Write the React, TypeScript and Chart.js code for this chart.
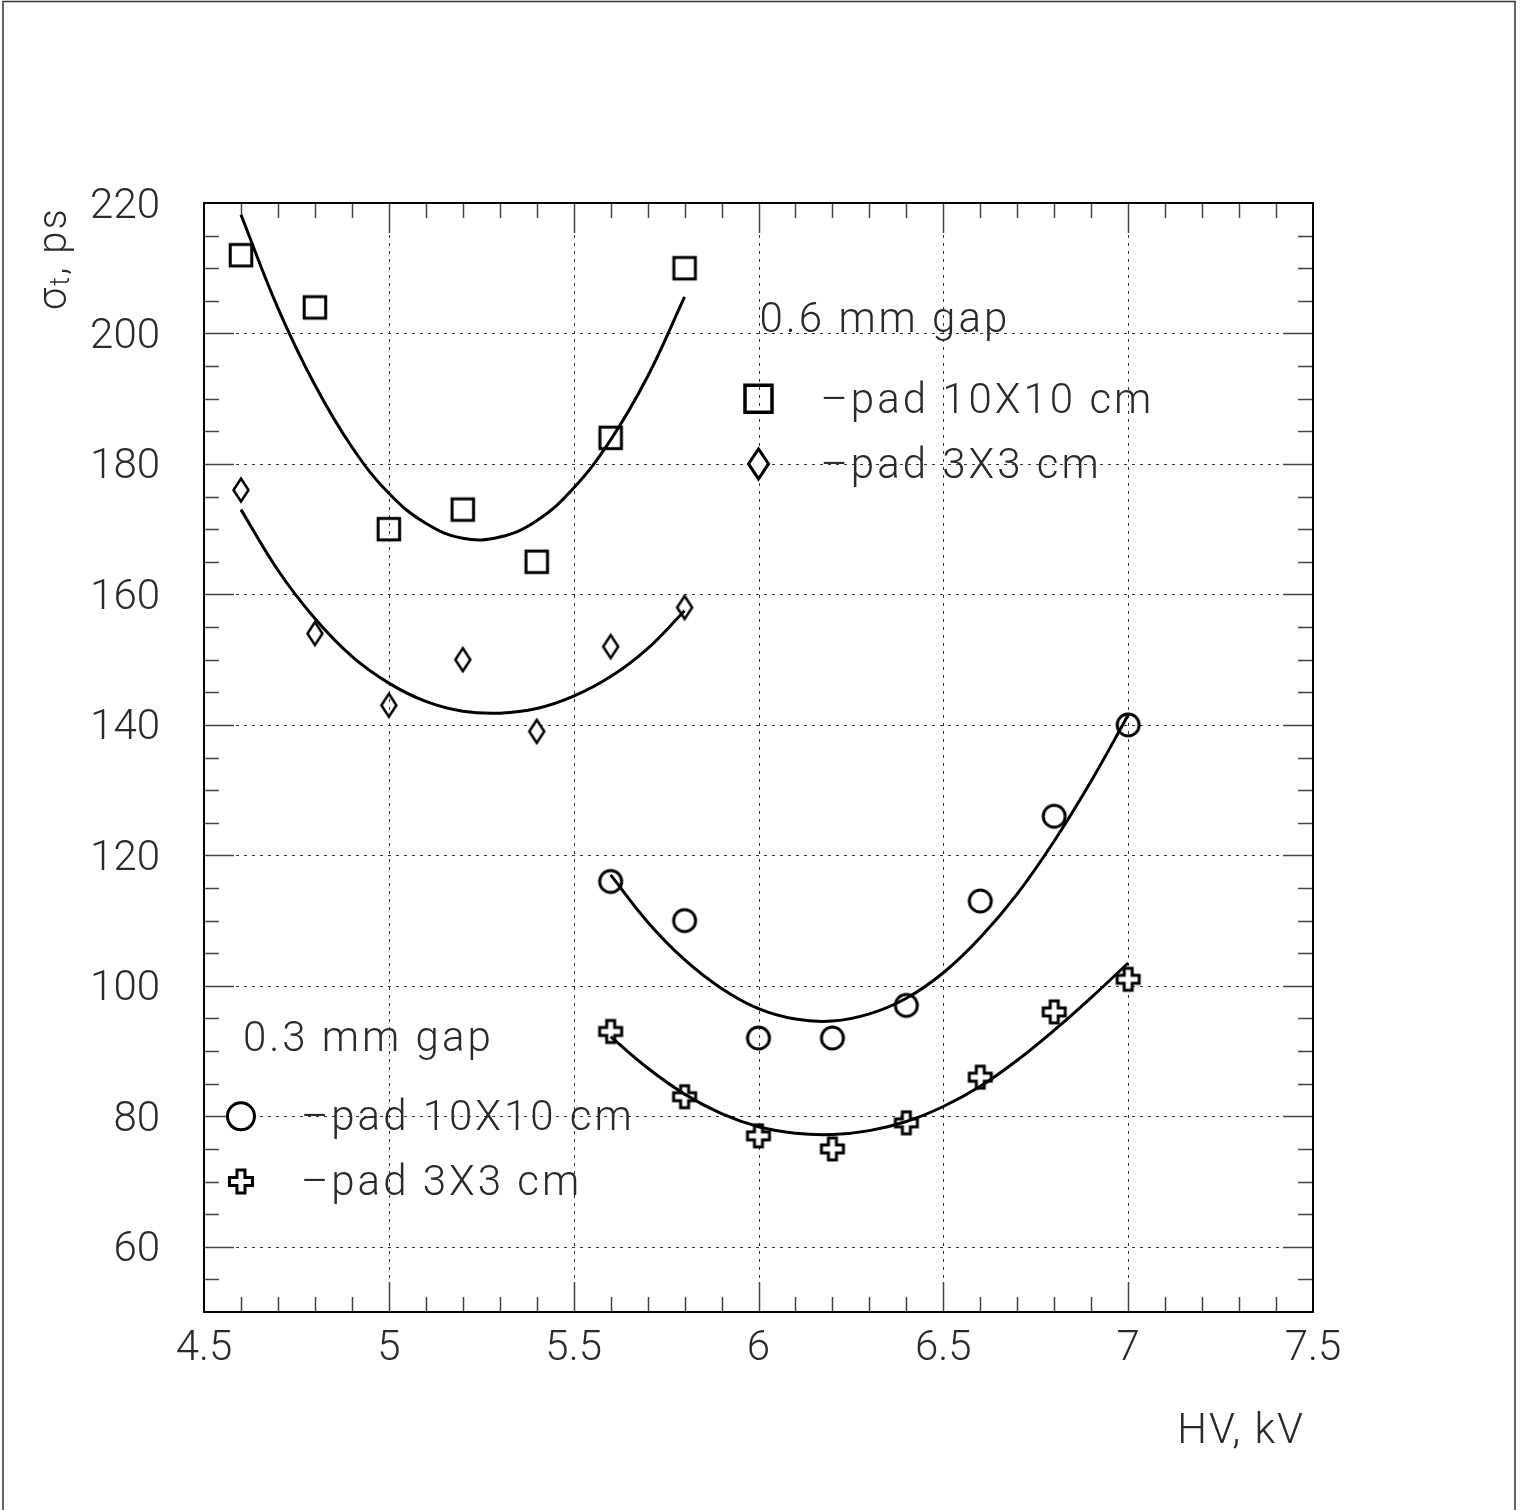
import React, { useEffect, useRef } from 'react';
import { Chart, registerables } from 'chart.js';

Chart.register(...registerables);

// ---- data ----
const hv06 = [4.6, 4.8, 5.0, 5.2, 5.4, 5.6, 5.8];
const sigmaPad10Gap06 = [212, 204, 170, 173, 165, 184, 210];
const sigmaPad3Gap06 = [176, 154, 143, 150, 139, 152, 158];

const hv03 = [5.6, 5.8, 6.0, 6.2, 6.4, 6.6, 6.8, 7.0];
const sigmaPad10Gap03 = [116, 110, 92, 92, 97, 113, 126, 140];
const sigmaPad3Gap03 = [93, 83, 77, 75, 79, 86, 96, 101];

// fitted curves
const fitHv06 = [4.6, 4.7, 4.8, 4.9, 5.0, 5.1, 5.2, 5.3, 5.4, 5.5, 5.6, 5.7, 5.8];
const fitPad10Gap06 = [218.2, 203.9, 192.1, 182.6, 175.5, 170.9, 168.6, 168.8, 171.3, 176.3, 183.7, 193.4, 205.6];
const fitPad3Gap06 = [173, 163.7, 156.3, 150.5, 146.4, 143.6, 142.1, 141.8, 142.5, 144.4, 147.4, 151.7, 157.5];

const fitHv03 = [5.6, 5.7, 5.8, 5.9, 6.0, 6.1, 6.2, 6.3, 6.4, 6.5, 6.6, 6.7, 6.8, 6.9, 7.0];
const fitPad10Gap03 = [117, 109.8, 104, 99.6, 96.5, 94.9, 94.6, 95.7, 98.1, 102, 107.4, 114.1, 122.2, 131.4, 141.5];
const fitPad3Gap03 = [92.2, 87.4, 83.4, 80.4, 78.4, 77.4, 77.2, 77.8, 79.2, 81.5, 84.6, 88.6, 93.2, 98.2, 103.5];

const xTickValues = [4.5, 5, 5.5, 6, 6.5, 7, 7.5];
const yTickValues = [60, 80, 100, 120, 140, 160, 180, 200, 220];
const xGridValues = [5, 5.5, 6, 6.5, 7];
const yGridValues = [60, 80, 100, 120, 140, 160, 180, 200];

const X_MIN = 4.5, X_MAX = 7.5, Y_MIN = 50, Y_MAX = 220;

const xTitle = 'HV, kV';
const gap06Label = '0.6 mm gap';
const gap03Label = '0.3 mm gap';
const pad10Label = '\u2013pad 10X10 cm';
const pad3Label = '\u2013pad 3X3 cm';

const FONT_FAMILY = 'Roboto, "DejaVu Sans", sans-serif';
const TEXT_COLOR = '#2a2a2a';

// ---- marker drawing ----
function pathSquare(ctx: CanvasRenderingContext2D, cx: number, cy: number, side: number) {
  ctx.beginPath();
  ctx.rect(cx - side / 2, cy - side / 2, side, side);
}
function pathCircle(ctx: CanvasRenderingContext2D, cx: number, cy: number, r: number) {
  ctx.beginPath();
  ctx.arc(cx, cy, r, 0, Math.PI * 2);
}
function pathDiamond(ctx: CanvasRenderingContext2D, cx: number, cy: number, hw: number, hh: number) {
  ctx.beginPath();
  ctx.moveTo(cx, cy - hh);
  ctx.lineTo(cx + hw, cy);
  ctx.lineTo(cx, cy + hh);
  ctx.lineTo(cx - hw, cy);
  ctx.closePath();
}
function pathCross(ctx: CanvasRenderingContext2D, cx: number, cy: number, L: number, w: number) {
  const pts = [
    [-w, -L], [w, -L], [w, -w], [L, -w], [L, w], [w, w],
    [w, L], [-w, L], [-w, w], [-L, w], [-L, -w], [-w, -w],
  ];
  ctx.beginPath();
  pts.forEach(([px, py], i) => (i ? ctx.lineTo(cx + px, cy + py) : ctx.moveTo(cx + px, cy + py)));
  ctx.closePath();
}

function makeMarker(size: number, draw: (c: CanvasRenderingContext2D, cx: number, cy: number) => void) {
  const cv = document.createElement('canvas');
  cv.width = size;
  cv.height = size;
  const c = cv.getContext('2d')!;
  draw(c, size / 2, size / 2);
  return cv;
}

export default function App() {
  const ref = useRef<HTMLCanvasElement | null>(null);

  useEffect(() => {
    document.body.style.margin = '0';
    document.body.style.overflow = 'hidden';
    const canvas = ref.current;
    if (!canvas) return;

    const squareImg = makeMarker(32, (c, cx, cy) => {
      c.lineWidth = 3; c.strokeStyle = '#000';
      pathSquare(c, cx, cy, 21.5); c.stroke();
    });
    const diamondImg = makeMarker(32, (c, cx, cy) => {
      c.lineWidth = 2.5; c.strokeStyle = '#000';
      pathDiamond(c, cx, cy, 7.5, 11.5); c.stroke();
    });
    const circleImg = makeMarker(32, (c, cx, cy) => {
      c.lineWidth = 3; c.strokeStyle = '#000';
      pathCircle(c, cx, cy, 11); c.stroke();
    });
    const crossImg = makeMarker(32, (c, cx, cy) => {
      c.lineWidth = 3; c.strokeStyle = '#000'; c.fillStyle = '#fff';
      pathCross(c, cx, cy, 11, 4); c.fill(); c.stroke();
    });

    const pts = (xs: number[], ys: number[]) => xs.map((x, i) => ({ x, y: ys[i] }));

    const curve = (xs: number[], ys: number[]) => ({
      data: pts(xs, ys),
      showLine: true,
      borderColor: '#000',
      borderWidth: 3,
      pointRadius: 0,
      tension: 0.4,
      fill: false,
    });
    const markers = (xs: number[], ys: number[], img: HTMLCanvasElement) => ({
      data: pts(xs, ys),
      showLine: false,
      pointStyle: img,
      pointRadius: 12,
      borderColor: '#000',
      backgroundColor: 'rgba(0,0,0,0)',
    });

    const tickFont = { family: FONT_FAMILY, size: 42, weight: '300' as any };

    const framePlugin = {
      id: 'frame',
      beforeDatasetsDraw(chart: any) {
        const { ctx, chartArea: a, scales } = chart;
        const x = scales.x, y = scales.y;
        ctx.save();
        // dotted grid
        ctx.strokeStyle = '#333';
        ctx.lineWidth = 1;
        ctx.setLineDash([3, 5]);
        xGridValues.forEach((v) => {
          const px = Math.round(x.getPixelForValue(v)) + 0.5;
          ctx.beginPath(); ctx.moveTo(px, a.top); ctx.lineTo(px, a.bottom); ctx.stroke();
        });
        yGridValues.forEach((v) => {
          const py = Math.round(y.getPixelForValue(v)) + 0.5;
          ctx.beginPath(); ctx.moveTo(a.left, py); ctx.lineTo(a.right, py); ctx.stroke();
        });
        ctx.setLineDash([]);
        // inward tick marks
        ctx.strokeStyle = '#444';
        ctx.lineWidth = 1.5;
        for (let i = 1; i < 30; i++) {
          const v = X_MIN + i * 0.1;
          const len = i % 5 === 0 ? 30 : 15;
          const px = Math.round(x.getPixelForValue(v)) + 0.5;
          ctx.beginPath();
          ctx.moveTo(px, a.bottom); ctx.lineTo(px, a.bottom - len);
          ctx.moveTo(px, a.top); ctx.lineTo(px, a.top + len);
          ctx.stroke();
        }
        for (let v = Y_MIN + 5; v < Y_MAX; v += 5) {
          const len = v % 20 === 0 ? 30 : 15;
          const py = Math.round(y.getPixelForValue(v)) + 0.5;
          ctx.beginPath();
          ctx.moveTo(a.left, py); ctx.lineTo(a.left + len, py);
          ctx.moveTo(a.right, py); ctx.lineTo(a.right - len, py);
          ctx.stroke();
        }
        // frame
        ctx.strokeStyle = '#000';
        ctx.lineWidth = 2;
        ctx.strokeRect(a.left, a.top, a.right - a.left, a.bottom - a.top);
        ctx.restore();
      },
      afterDatasetsDraw(chart: any) {
        const { ctx, scales } = chart;
        const x = scales.x, y = scales.y;
        ctx.save();
        ctx.fillStyle = TEXT_COLOR;
        ctx.font = `300 42px ${FONT_FAMILY}`;
        (ctx as any).letterSpacing = '3px';
        ctx.textAlign = 'left';
        ctx.textBaseline = 'alphabetic';

        // 0.6 mm gap legend
        const lx1 = x.getPixelForValue(6.0);
        ctx.fillText(gap06Label, lx1 + 1, y.getPixelForValue(200) - 1);
        const sqY = y.getPixelForValue(190);
        const dmY = y.getPixelForValue(180);
        ctx.fillText(pad10Label, lx1 + 62, sqY + 14);
        ctx.fillText(pad3Label, lx1 + 62, dmY + 14);

        // 0.3 mm gap legend
        const lx2 = x.getPixelForValue(4.6);
        ctx.fillText(gap03Label, lx2 + 2, y.getPixelForValue(90));
        const ciY = y.getPixelForValue(80);
        const crY = y.getPixelForValue(70);
        ctx.fillText(pad10Label, lx2 + 60, ciY + 14);
        ctx.fillText(pad3Label, lx2 + 60, crY + 13);

        // legend markers
        ctx.strokeStyle = '#000';
        ctx.lineWidth = 3.5;
        pathSquare(ctx, lx1, sqY, 27); ctx.stroke();
        ctx.lineWidth = 3;
        ctx.fillStyle = '#fff';
        pathDiamond(ctx, lx1, dmY, 10, 15); ctx.fill(); ctx.stroke();
        pathCircle(ctx, lx2, ciY, 13.5); ctx.fill(); ctx.stroke();
        pathCross(ctx, lx2, crY, 11.5, 4); ctx.fill(); ctx.stroke();
        ctx.restore();
      },
      afterDraw(chart: any) {
        const { ctx } = chart;
        ctx.save();
        // page border
        ctx.strokeStyle = '#333';
        ctx.lineWidth = 1.5;
        ctx.beginPath();
        ctx.moveTo(3, 1510); ctx.lineTo(3, 1.5); ctx.lineTo(1515, 1.5); ctx.lineTo(1515, 1510);
        ctx.stroke();

        ctx.fillStyle = TEXT_COLOR;
        (ctx as any).letterSpacing = '2px';
        // x title
        ctx.font = `300 42px ${FONT_FAMILY}`;
        ctx.textAlign = 'right';
        ctx.textBaseline = 'alphabetic';
        ctx.fillText(xTitle, 1305, 1443);

        // y title: sigma_t, ps (rotated)
        ctx.translate(66, 310);
        ctx.rotate(-Math.PI / 2);
        ctx.textAlign = 'left';
        ctx.font = `300 40px ${FONT_FAMILY}`;
        ctx.fillText('\u03c3', 0, 0);
        let off = ctx.measureText('\u03c3').width;
        ctx.font = `300 27px ${FONT_FAMILY}`;
        ctx.fillText('t', off, 3);
        off += ctx.measureText('t').width;
        ctx.font = `300 40px ${FONT_FAMILY}`;
        ctx.fillText(', ps', off, 0);
        ctx.restore();
      },
    };

    const chart = new Chart(canvas, {
      type: 'scatter',
      data: {
        datasets: [
          curve(fitHv06, fitPad10Gap06),
          curve(fitHv06, fitPad3Gap06),
          curve(fitHv03, fitPad10Gap03),
          curve(fitHv03, fitPad3Gap03),
          markers(hv06, sigmaPad10Gap06, squareImg),
          markers(hv06, sigmaPad3Gap06, diamondImg),
          markers(hv03, sigmaPad10Gap03, circleImg),
          markers(hv03, sigmaPad3Gap03, crossImg),
        ] as any,
      },
      options: {
        responsive: false,
        animation: false,
        devicePixelRatio: 1,
        layout: { padding: { left: 0, top: 203, right: 207, bottom: 0 } },
        plugins: { legend: { display: false }, tooltip: { enabled: false }, title: { display: false } },
        scales: {
          x: {
            type: 'linear',
            min: X_MIN,
            max: X_MAX,
            afterBuildTicks: (s: any) => { s.ticks = xTickValues.map((value) => ({ value })); },
            afterFit: (s: any) => { s.height = 198; },
            grid: { display: false, drawTicks: false },
            border: { display: false },
            ticks: {
              font: tickFont,
              color: TEXT_COLOR,
              padding: 12,
              maxRotation: 0,
              autoSkip: false,
              callback: (v: any) => String(Number(v)),
            },
          },
          y: {
            type: 'linear',
            min: Y_MIN,
            max: Y_MAX,
            afterBuildTicks: (s: any) => { s.ticks = yTickValues.map((value) => ({ value })); },
            afterFit: (s: any) => { s.width = 204; },
            grid: { display: false, drawTicks: false },
            border: { display: false },
            ticks: {
              font: tickFont,
              color: TEXT_COLOR,
              padding: 44,
              labelOffset: 4,
              autoSkip: false,
              callback: (v: any) => String(Number(v)),
            },
          },
        },
      },
      plugins: [framePlugin],
    });

    return () => chart.destroy();
  }, []);

  return (
    <div style={{ width: 1520, height: 1510, position: 'relative', background: '#fff' }}>
      <canvas ref={ref} width={1520} height={1510} style={{ display: 'block', width: 1520, height: 1510 }} />
    </div>
  );
}
